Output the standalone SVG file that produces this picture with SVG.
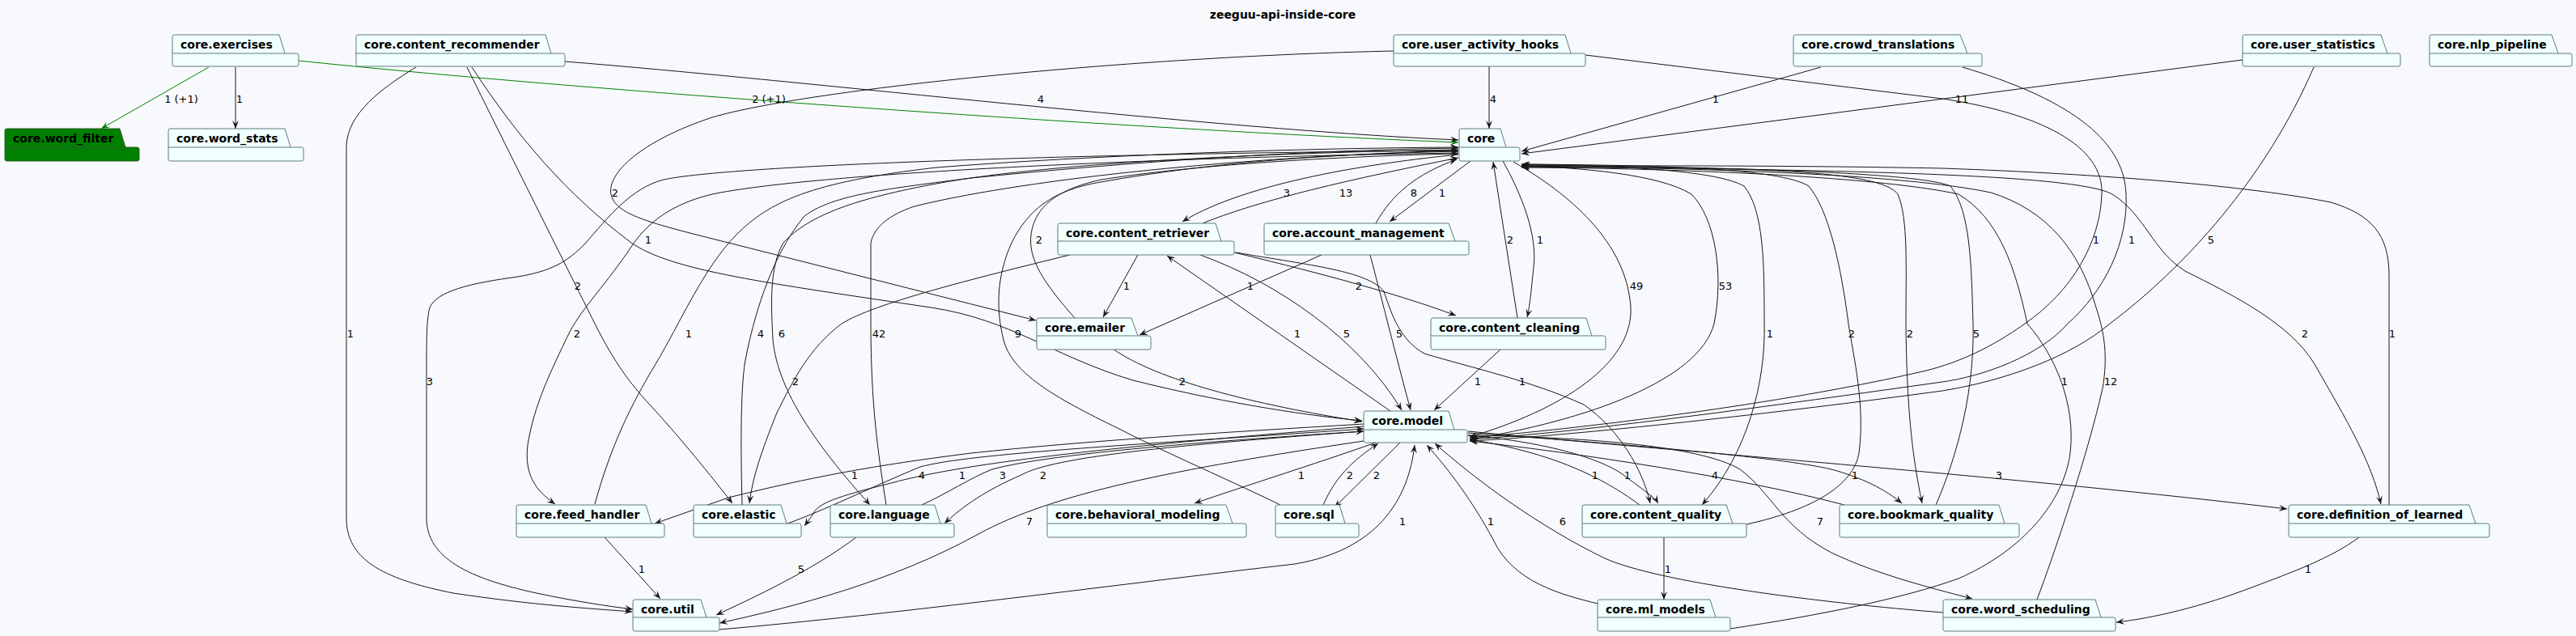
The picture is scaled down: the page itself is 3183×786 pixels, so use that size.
<svg xmlns="http://www.w3.org/2000/svg" width="3183" height="786" viewBox="0 0 3183 786">
<style>
.bg{fill:#F8F9FD}
.pk{fill:#F1FFFF;stroke:#5F7A7A;stroke-width:1}
.pkg{fill:#008000;stroke:#2F5F2F;stroke-width:1}
.tl{fill:none;stroke:#5F7A7A;stroke-width:1}
.nt{font-family:"DejaVu Sans",sans-serif;font-size:14px;font-weight:bold;fill:#000}
.e{fill:none;stroke:#181818;stroke-width:1;marker-end:url(#arr)}
.eg{fill:none;stroke:#008000;stroke-width:1;marker-end:url(#arrg)}
.lb{font-family:"DejaVu Sans",sans-serif;font-size:13px;fill:#000;text-anchor:middle}
.title{font-family:"DejaVu Sans",sans-serif;font-size:14px;font-weight:bold;fill:#000;text-anchor:middle}
</style>
<defs>
<marker id="arr" viewBox="0 0 10 8" refX="10" refY="4" markerWidth="10" markerHeight="8" markerUnits="userSpaceOnUse" orient="auto"><path d="M0,0 L10,4 L0,8 L4,4 Z" fill="#181818"/></marker>
<marker id="arrg" viewBox="0 0 10 8" refX="10" refY="4" markerWidth="10" markerHeight="8" markerUnits="userSpaceOnUse" orient="auto"><path d="M0,0 L10,4 L0,8 L4,4 Z" fill="#008000"/></marker>
</defs>
<rect class="bg" x="0" y="0" width="3183" height="786"/>
<text class="title" x="1585" y="23">zeeguu-api-inside-core</text>

<g id="connectors">
<path class="eg" d="M258,83 L125,159"/>
<path class="e" d="M291,83 L291,159"/>
<path class="eg" d="M369,75 C700,110 1400,160 1802,176"/>
<path class="e" d="M698,76 C1000,100 1500,160 1802,173"/>
<path class="e" d="M1840,82 L1840,159"/>
<path class="e" d="M1722,63 C1400,70 1000,110 880,145 C790,175 750,215 755,240 C760,265 800,275 900,300 L1280,396"/>
<path class="e" d="M1959,68 L2400,122 C2520,140 2600,180 2597,240 C2595,300 2560,360 2502,400 C2460,430 2420,448 2380,458 C2200,500 1950,530 1816,541"/>
<path class="e" d="M2250,83 L1880,187"/>
<path class="e" d="M2425,83 C2550,120 2625,170 2627,240 C2630,300 2600,360 2555,400 C2520,440 2450,465 2400,472 C2200,500 1950,535 1816,543"/>
<path class="e" d="M2771,74 L1880,190"/>
<path class="e" d="M2859,83 C2800,220 2700,330 2607,400 C2560,440 2480,470 2400,483 C2200,510 1950,538 1816,545"/>
<path class="e" d="M2392,624 C2420,560 2440,480 2438,400 C2436,330 2435,260 2410,230 C2370,212 2100,206 1880,204"/>
<path class="e" d="M1880,206 C2100,208 2320,205 2345,240 C2358,270 2355,330 2355,400 C2356,500 2362,560 2375,622"/>
<path class="e" d="M2158,648 C2240,630 2290,600 2297,560 C2305,500 2290,440 2284,400 C2275,330 2260,260 2235,230 C2200,208 2050,204 1880,203"/>
<path class="e" d="M1880,203 C2000,205 2120,210 2155,230 C2180,260 2180,330 2180,400 C2182,470 2160,560 2103,624"/>
<path class="e" d="M1870,200 C1940,240 2010,300 2015,380 C2018,440 1950,500 1816,540"/>
<path class="e" d="M1816,543 C1960,520 2100,470 2118,400 C2130,340 2120,270 2090,240 C2050,215 1950,207 1880,205"/>
<path class="e" d="M2952,624 L2952,340 C2952,290 2930,265 2880,250 C2780,230 2600,215 2400,208 C2200,204 2000,205 1880,205"/>
<path class="e" d="M1880,205 C2200,210 2560,212 2610,240 C2650,265 2660,310 2700,335 C2760,365 2830,400 2860,450 C2900,520 2930,570 2942,623"/>
<path class="e" d="M2517,741 C2540,680 2580,560 2598,480 C2605,440 2600,410 2590,380 C2570,310 2530,260 2460,238 C2350,215 2100,207 1880,206"/>
<path class="e" d="M2138,777 C2250,760 2350,740 2420,715 C2500,680 2550,620 2558,560 C2565,500 2540,440 2505,400 C2490,330 2470,270 2420,240 C2330,220 2100,208 1880,207"/>
<path class="e" d="M2915,664 C2880,690 2830,708 2785,725 C2720,750 2660,764 2615,769"/>
<path class="e" d="M735,623 C755,550 780,500 810,450 C840,400 870,330 910,290 C950,250 1000,225 1157,207 C1350,192 1600,183 1802,182"/>
<path class="e" d="M1802,189 C1400,195 1000,215 880,240 C830,252 800,275 780,305 C750,350 720,380 704,410 C680,460 660,500 652,550 C648,585 660,605 686,623"/>
<path class="e" d="M1802,186 C1300,190 900,205 820,222 C780,232 750,270 724,300 C700,325 680,335 640,342 C580,350 540,360 531,380 C527,395 527,420 527,460 L527,640 C527,690 580,715 663,733 C710,743 750,749 782,753"/>
<path class="e" d="M514,83 C470,110 430,140 428,180 L428,640 C428,690 470,715 560,733 C660,748 730,752 781,756"/>
<path class="e" d="M577,83 C640,210 700,330 735,400 C760,450 780,475 800,497 C840,540 880,590 905,622"/>
<path class="e" d="M583,83 C640,170 700,240 780,300 C830,335 950,350 1150,380 C1250,395 1300,440 1400,470 C1500,495 1600,512 1683,520"/>
<path class="e" d="M1375,431 C1430,470 1550,500 1683,521"/>
<path class="e" d="M917,624 C915,550 915,470 922,440 C930,400 950,320 994,267 C1030,240 1100,233 1200,220 C1400,200 1600,186 1802,183"/>
<path class="e" d="M1802,185 C1600,188 1300,200 1157,227 C1060,245 1000,265 968,300 C950,330 953,380 955,420 C960,470 990,530 1075,624"/>
<path class="e" d="M1095,624 C1085,560 1076,500 1076,400 L1076,300 C1080,280 1100,265 1130,255 C1250,225 1500,195 1802,186"/>
<path class="e" d="M1582,624 C1540,603 1420,550 1383,530 C1300,490 1250,460 1240,420 C1230,380 1232,340 1250,300 C1270,260 1300,235 1360,225 C1500,200 1650,190 1802,187"/>
<path class="e" d="M1328,393 C1290,350 1270,320 1274,290 C1278,260 1300,235 1361,222 C1500,200 1700,192 1802,190"/>
<path class="e" d="M1802,191 C1700,201 1540,225 1461,274"/>
<path class="e" d="M1486,276 C1550,250 1650,225 1802,195"/>
<path class="e" d="M1700,276 C1720,240 1750,215 1800,197"/>
<path class="e" d="M1817,199 L1717,274"/>
<path class="e" d="M1875,393 L1845,200"/>
<path class="e" d="M1857,199 C1880,240 1900,290 1895,330 C1892,360 1890,380 1887,392"/>
<path class="e" d="M1483,315 C1580,350 1680,420 1732,507"/>
<path class="e" d="M1718,508 L1442,316"/>
<path class="e" d="M1693,315 C1710,380 1725,440 1743,507"/>
<path class="e" d="M1855,431 L1772,507"/>
<path class="e" d="M1525,312 C1600,330 1720,360 1799,390"/>
<path class="e" d="M1527,312 C1620,328 1690,335 1710,360 C1720,390 1730,420 1760,437 C1820,455 1890,470 1957,500 C2000,530 2030,580 2039,622"/>
<path class="e" d="M1633,315 L1408,414"/>
<path class="e" d="M1406,315 L1363,392"/>
<path class="e" d="M1322,315 C1200,345 1080,375 1040,400 C1000,430 980,470 960,510 C940,560 930,590 926,622"/>
<path class="e" d="M2026,624 C1980,590 1920,560 1816,543"/>
<path class="e" d="M1814,538 C1900,545 1980,565 2010,590 C2030,605 2045,615 2049,622"/>
<path class="e" d="M1814,535 C2000,548 2200,565 2263,580 C2300,590 2330,605 2350,622"/>
<path class="e" d="M2279,624 C2150,590 1950,560 1816,545"/>
<path class="e" d="M1814,533 C2100,560 2500,590 2826,629"/>
<path class="e" d="M1814,538 C1950,540 2100,550 2150,580 C2190,610 2200,650 2263,683 C2320,710 2380,725 2437,740"/>
<path class="e" d="M2401,757 C2250,745 2050,720 1983,690 C1900,650 1820,590 1773,548"/>
<path class="e" d="M1974,746 C1930,735 1870,720 1845,667 C1820,620 1790,580 1763,550"/>
<path class="e" d="M2056,664 L2056,741"/>
<path class="e" d="M1730,547 L1649,627"/>
<path class="e" d="M1635,624 C1650,590 1670,570 1703,548"/>
<path class="e" d="M1700,547 C1620,575 1540,600 1476,622"/>
<path class="e" d="M889,778 C1100,760 1400,720 1600,697 C1700,680 1740,620 1748,550"/>
<path class="e" d="M1685,545 C1450,580 1300,610 1209,660 C1100,720 980,750 889,770"/>
<path class="e" d="M1058,664 C1010,700 950,730 885,760"/>
<path class="e" d="M747,664 L816,740"/>
<path class="e" d="M1685,524 C1500,535 1340,545 1200,560 C1080,575 1000,590 900,615 L809,647"/>
<path class="e" d="M1685,527 C1400,550 1200,570 1101,597 C1050,610 1010,620 1005,635 L994,650"/>
<path class="e" d="M973,647 C1020,630 1070,605 1137,577 C1200,560 1400,550 1685,530"/>
<path class="e" d="M1139,624 C1170,610 1200,590 1226,580 C1300,560 1500,545 1685,533"/>
<path class="e" d="M1685,533 C1450,550 1300,565 1262,587 C1220,605 1190,625 1167,647"/>

<text class="lb" x="224" y="127">1 (+1)</text>
<text class="lb" x="296" y="127">1</text>
<text class="lb" x="950" y="127">2 (+1)</text>
<text class="lb" x="1286" y="127">4</text>
<text class="lb" x="1845" y="127">4</text>
<text class="lb" x="2120" y="127">1</text>
<text class="lb" x="2424" y="127">11</text>
<text class="lb" x="760" y="243">2</text>
<text class="lb" x="1590" y="243">3</text>
<text class="lb" x="1663" y="243">13</text>
<text class="lb" x="1747" y="243">8</text>
<text class="lb" x="1782" y="243">1</text>
<text class="lb" x="801" y="301">1</text>
<text class="lb" x="1284" y="301">2</text>
<text class="lb" x="1866" y="301">2</text>
<text class="lb" x="1903" y="301">1</text>
<text class="lb" x="2590" y="301">1</text>
<text class="lb" x="2634" y="301">1</text>
<text class="lb" x="2732" y="301">5</text>
<text class="lb" x="714" y="358">2</text>
<text class="lb" x="1392" y="358">1</text>
<text class="lb" x="1545" y="358">1</text>
<text class="lb" x="1679" y="358">2</text>
<text class="lb" x="2022" y="358">49</text>
<text class="lb" x="2132" y="358">53</text>
<text class="lb" x="433" y="417">1</text>
<text class="lb" x="713" y="417">2</text>
<text class="lb" x="851" y="417">1</text>
<text class="lb" x="940" y="417">4</text>
<text class="lb" x="966" y="417">6</text>
<text class="lb" x="1086" y="417">42</text>
<text class="lb" x="1258" y="417">9</text>
<text class="lb" x="1603" y="417">1</text>
<text class="lb" x="1664" y="417">5</text>
<text class="lb" x="1729" y="417">5</text>
<text class="lb" x="2187" y="417">1</text>
<text class="lb" x="2288" y="417">2</text>
<text class="lb" x="2360" y="417">2</text>
<text class="lb" x="2442" y="417">5</text>
<text class="lb" x="2848" y="417">2</text>
<text class="lb" x="2956" y="417">1</text>
<text class="lb" x="531" y="476">3</text>
<text class="lb" x="983" y="476">2</text>
<text class="lb" x="1461" y="476">2</text>
<text class="lb" x="1826" y="476">1</text>
<text class="lb" x="1881" y="476">1</text>
<text class="lb" x="2551" y="476">1</text>
<text class="lb" x="2608" y="476">12</text>
<text class="lb" x="1056" y="592">1</text>
<text class="lb" x="1139" y="592">4</text>
<text class="lb" x="1189" y="592">1</text>
<text class="lb" x="1239" y="592">3</text>
<text class="lb" x="1289" y="592">2</text>
<text class="lb" x="1608" y="592">1</text>
<text class="lb" x="1668" y="592">2</text>
<text class="lb" x="1701" y="592">2</text>
<text class="lb" x="1971" y="592">1</text>
<text class="lb" x="2011" y="592">1</text>
<text class="lb" x="2119" y="592">4</text>
<text class="lb" x="2292" y="592">1</text>
<text class="lb" x="2470" y="592">3</text>
<text class="lb" x="1272" y="649">7</text>
<text class="lb" x="1733" y="649">1</text>
<text class="lb" x="1842" y="649">1</text>
<text class="lb" x="1931" y="649">6</text>
<text class="lb" x="2249" y="649">7</text>
<text class="lb" x="793" y="708">1</text>
<text class="lb" x="990" y="708">5</text>
<text class="lb" x="2061" y="708">1</text>
<text class="lb" x="2852" y="708">1</text>
</g>

<g id="n-exercises"><path class="pk" d="M215.5,43 H345 L352,66 H366.5 Q369,66 369,68.5 V79.5 Q369,82 366.5,82 H215.5 Q213,82 213,79.5 V45.5 Q213,43 215.5,43 Z"/><path class="tl" d="M213,66 H352"/><text class="nt" x="223" y="60">core.exercises</text></g>
<g id="n-content_recommender"><path class="pk" d="M442.5,43 H674 L681,66 H695.5 Q698,66 698,68.5 V79.5 Q698,82 695.5,82 H442.5 Q440,82 440,79.5 V45.5 Q440,43 442.5,43 Z"/><path class="tl" d="M440,66 H681"/><text class="nt" x="450" y="60">core.content_recommender</text></g>
<g id="n-user_activity_hooks"><path class="pk" d="M1724.5,43 H1934 L1941,66 H1956.5 Q1959,66 1959,68.5 V79.5 Q1959,82 1956.5,82 H1724.5 Q1722,82 1722,79.5 V45.5 Q1722,43 1724.5,43 Z"/><path class="tl" d="M1722,66 H1941"/><text class="nt" x="1732" y="60">core.user_activity_hooks</text></g>
<g id="n-crowd_translations"><path class="pk" d="M2218.5,43 H2422 L2431,66 H2446.5 Q2449,66 2449,68.5 V79.5 Q2449,82 2446.5,82 H2218.5 Q2216,82 2216,79.5 V45.5 Q2216,43 2218.5,43 Z"/><path class="tl" d="M2216,66 H2431"/><text class="nt" x="2226" y="60">core.crowd_translations</text></g>
<g id="n-user_statistics"><path class="pk" d="M2773.5,43 H2942 L2950,66 H2963.5 Q2966,66 2966,68.5 V79.5 Q2966,82 2963.5,82 H2773.5 Q2771,82 2771,79.5 V45.5 Q2771,43 2773.5,43 Z"/><path class="tl" d="M2771,66 H2950"/><text class="nt" x="2781" y="60">core.user_statistics</text></g>
<g id="n-nlp_pipeline"><path class="pk" d="M3004.5,43 H3153 L3161,66 H3175.5 Q3178,66 3178,68.5 V79.5 Q3178,82 3175.5,82 H3004.5 Q3002,82 3002,79.5 V45.5 Q3002,43 3004.5,43 Z"/><path class="tl" d="M3002,66 H3161"/><text class="nt" x="3012" y="60">core.nlp_pipeline</text></g>

<g id="n-word_filter"><path class="pkg" d="M8.5,159 H148 L155,182 H169.5 Q172,182 172,184.5 V196.5 Q172,199 169.5,199 H8.5 Q6,199 6,196.5 V161.5 Q6,159 8.5,159 Z"/><path class="tl" d="M6,182 H155" style="stroke:#2F5F2F"/><text class="nt" x="16" y="176">core.word_filter</text></g>
<g id="n-word_stats"><path class="pk" d="M210.5,159 H352 L359,182 H372.5 Q375,182 375,184.5 V196.5 Q375,199 372.5,199 H210.5 Q208,199 208,196.5 V161.5 Q208,159 210.5,159 Z"/><path class="tl" d="M208,182 H359"/><text class="nt" x="218" y="176">core.word_stats</text></g>
<g id="n-core"><path class="pk" d="M1805.5,159 H1854 L1861,182 H1875.5 Q1878,182 1878,184.5 V196.5 Q1878,199 1875.5,199 H1805.5 Q1803,199 1803,196.5 V161.5 Q1803,159 1805.5,159 Z"/><path class="tl" d="M1803,182 H1861"/><text class="nt" x="1813" y="176">core</text></g>

<g id="n-content_retriever"><path class="pk" d="M1309.5,276 H1502 L1509,298 H1522.5 Q1525,298 1525,300.5 V312.5 Q1525,315 1522.5,315 H1309.5 Q1307,315 1307,312.5 V278.5 Q1307,276 1309.5,276 Z"/><path class="tl" d="M1307,298 H1509"/><text class="nt" x="1317" y="293">core.content_retriever</text></g>
<g id="n-account_management"><path class="pk" d="M1564.5,276 H1790 L1798,298 H1812.5 Q1815,298 1815,300.5 V312.5 Q1815,315 1812.5,315 H1564.5 Q1562,315 1562,312.5 V278.5 Q1562,276 1564.5,276 Z"/><path class="tl" d="M1562,298 H1798"/><text class="nt" x="1572" y="293">core.account_management</text></g>

<g id="n-emailer"><path class="pk" d="M1283.5,393 H1398 L1406,415 H1419.5 Q1422,415 1422,417.5 V429.5 Q1422,432 1419.5,432 H1283.5 Q1281,432 1281,429.5 V395.5 Q1281,393 1283.5,393 Z"/><path class="tl" d="M1281,415 H1406"/><text class="nt" x="1291" y="410">core.emailer</text></g>
<g id="n-content_cleaning"><path class="pk" d="M1770.5,393 H1960 L1967,415 H1981.5 Q1984,415 1984,417.5 V429.5 Q1984,432 1981.5,432 H1770.5 Q1768,432 1768,429.5 V395.5 Q1768,393 1770.5,393 Z"/><path class="tl" d="M1768,415 H1967"/><text class="nt" x="1778" y="410">core.content_cleaning</text></g>

<g id="n-model"><path class="pk" d="M1687.5,508 H1790 L1797,531 H1810.5 Q1813,531 1813,533.5 V544.5 Q1813,547 1810.5,547 H1687.5 Q1685,547 1685,544.5 V510.5 Q1685,508 1687.5,508 Z"/><path class="tl" d="M1685,531 H1797"/><text class="nt" x="1695" y="525">core.model</text></g>

<g id="n-feed_handler"><path class="pk" d="M640.5,624 H798 L805,647 H818.5 Q821,647 821,649.5 V661.5 Q821,664 818.5,664 H640.5 Q638,664 638,661.5 V626.5 Q638,624 640.5,624 Z"/><path class="tl" d="M638,647 H805"/><text class="nt" x="648" y="641">core.feed_handler</text></g>
<g id="n-elastic"><path class="pk" d="M859.5,624 H965 L972,647 H987.5 Q990,647 990,649.5 V661.5 Q990,664 987.5,664 H859.5 Q857,664 857,661.5 V626.5 Q857,624 859.5,624 Z"/><path class="tl" d="M857,647 H972"/><text class="nt" x="867" y="641">core.elastic</text></g>
<g id="n-language"><path class="pk" d="M1028.5,624 H1155 L1162,647 H1176.5 Q1179,647 1179,649.5 V661.5 Q1179,664 1176.5,664 H1028.5 Q1026,664 1026,661.5 V626.5 Q1026,624 1028.5,624 Z"/><path class="tl" d="M1026,647 H1162"/><text class="nt" x="1036" y="641">core.language</text></g>
<g id="n-behavioral_modeling"><path class="pk" d="M1296.5,624 H1515 L1523,647 H1537.5 Q1540,647 1540,649.5 V661.5 Q1540,664 1537.5,664 H1296.5 Q1294,664 1294,661.5 V626.5 Q1294,624 1296.5,624 Z"/><path class="tl" d="M1294,647 H1523"/><text class="nt" x="1304" y="641">core.behavioral_modeling</text></g>
<g id="n-sql"><path class="pk" d="M1578.5,624 H1655 L1662,647 H1676.5 Q1679,647 1679,649.5 V661.5 Q1679,664 1676.5,664 H1578.5 Q1576,664 1576,661.5 V626.5 Q1576,624 1578.5,624 Z"/><path class="tl" d="M1576,647 H1662"/><text class="nt" x="1586" y="641">core.sql</text></g>
<g id="n-content_quality"><path class="pk" d="M1957.5,624 H2133 L2141,647 H2155.5 Q2158,647 2158,649.5 V661.5 Q2158,664 2155.5,664 H1957.5 Q1955,664 1955,661.5 V626.5 Q1955,624 1957.5,624 Z"/><path class="tl" d="M1955,647 H2141"/><text class="nt" x="1965" y="641">core.content_quality</text></g>
<g id="n-bookmark_quality"><path class="pk" d="M2275.5,624 H2470 L2477,647 H2492.5 Q2495,647 2495,649.5 V661.5 Q2495,664 2492.5,664 H2275.5 Q2273,664 2273,661.5 V626.5 Q2273,624 2275.5,624 Z"/><path class="tl" d="M2273,647 H2477"/><text class="nt" x="2283" y="641">core.bookmark_quality</text></g>
<g id="n-definition_of_learned"><path class="pk" d="M2830.5,624 H3051 L3059,647 H3073.5 Q3076,647 3076,649.5 V661.5 Q3076,664 3073.5,664 H2830.5 Q2828,664 2828,661.5 V626.5 Q2828,624 2830.5,624 Z"/><path class="tl" d="M2828,647 H3059"/><text class="nt" x="2838" y="641">core.definition_of_learned</text></g>

<g id="n-util"><path class="pk" d="M784.5,741 H866 L873,763 H886.5 Q889,763 889,765.5 V777.5 Q889,780 886.5,780 H784.5 Q782,780 782,777.5 V743.5 Q782,741 784.5,741 Z"/><path class="tl" d="M782,763 H873"/><text class="nt" x="792" y="758">core.util</text></g>
<g id="n-ml_models"><path class="pk" d="M1976.5,741 H2113 L2120,763 H2135.5 Q2138,763 2138,765.5 V777.5 Q2138,780 2135.5,780 H1976.5 Q1974,780 1974,777.5 V743.5 Q1974,741 1976.5,741 Z"/><path class="tl" d="M1974,763 H2120"/><text class="nt" x="1984" y="758">core.ml_models</text></g>
<g id="n-word_scheduling"><path class="pk" d="M2403.5,741 H2589 L2596,763 H2611.5 Q2614,763 2614,765.5 V777.5 Q2614,780 2611.5,780 H2403.5 Q2401,780 2401,777.5 V743.5 Q2401,741 2403.5,741 Z"/><path class="tl" d="M2401,763 H2596"/><text class="nt" x="2411" y="758">core.word_scheduling</text></g>
</svg>
